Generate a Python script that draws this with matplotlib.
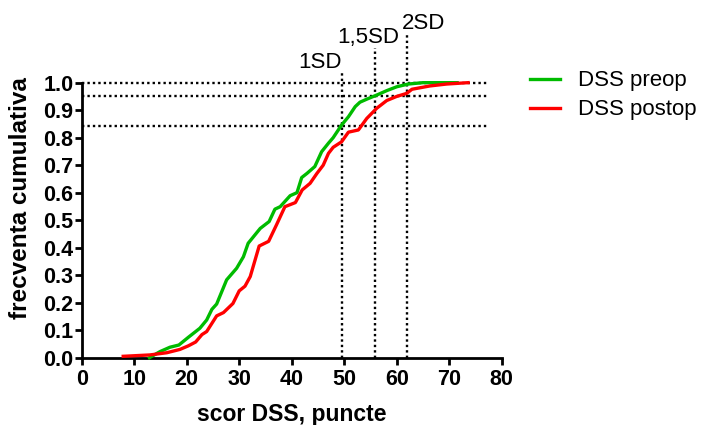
import matplotlib
matplotlib.use("Agg")
import matplotlib.pyplot as plt

plt.rcParams['font.family'] = ['Liberation Sans', 'DejaVu Sans']

# DSS preop (green)
preop_x = [12.9, 14.9, 16.8, 18.5, 20.3, 22.5, 23.8, 24.8, 25.7, 27.6, 29.5, 30.8, 31.7,
           34.0, 35.7, 36.8, 37.8, 39.7, 41.0, 41.9, 42.9, 44.4, 45.7, 47.0, 47.9, 49.5,
           50.8, 52.1, 53.0, 54.3, 56.2, 58.1, 60.0, 62.2, 65.0, 69.5, 71.5]
preop_y = [0.0, 0.022, 0.038, 0.046, 0.074, 0.107, 0.137, 0.176, 0.195, 0.283, 0.325, 0.367, 0.416,
           0.47, 0.495, 0.54, 0.549, 0.589, 0.60, 0.655, 0.67, 0.695, 0.749, 0.78, 0.80, 0.846,
           0.876, 0.913, 0.929, 0.94, 0.955, 0.971, 0.985, 0.995, 1.0, 1.0, 1.0]

# DSS postop (red)
postop_x = [7.9, 13.0, 16.2, 18.7, 20.3, 21.7, 22.9, 23.8, 25.7, 27.0, 28.8, 30.0, 31.1,
            32.1, 33.8, 35.6, 37.1, 38.7, 40.7, 42.0, 43.5, 44.8, 46.0, 47.0, 47.9, 49.5,
            50.8, 52.7, 54.3, 56.2, 58.1, 60.0, 61.9, 62.9, 66.3, 69.5, 73.6]
postop_y = [0.005, 0.01, 0.018, 0.03, 0.043, 0.057, 0.084, 0.095, 0.152, 0.164, 0.197, 0.243, 0.26,
            0.295, 0.406, 0.423, 0.483, 0.549, 0.564, 0.61, 0.634, 0.67, 0.70, 0.743, 0.765, 0.785,
            0.82, 0.828, 0.87, 0.907, 0.935, 0.95, 0.961, 0.976, 0.988, 0.995, 1.0]

# SD reference lines
sd_labels = ['1SD', '1,5SD', '2SD']
sd_x = [49.5, 55.9, 61.9]
sd_top = [1.04, 1.125, 1.18]
sd_y = [0.844, 0.953, 0.997]

fig = plt.figure(figsize=(7.01, 4.25), dpi=100)
ax = fig.add_axes([0.1166, 0.1584, 0.5991, 0.6471])

ax.plot(preop_x, preop_y, color='#00bb00', lw=2.4, label='DSS preop', clip_on=False, zorder=3)
ax.plot(postop_x, postop_y, color='#ff0000', lw=2.4, label='DSS postop', clip_on=False, zorder=3)

for x, top in zip(sd_x, sd_top):
    ax.plot([x, x], [0, top], color='black', ls=(0, (1, 1.3)), lw=1.7, clip_on=False)
for y in sd_y:
    ax.plot([0, 77.5], [y, y], color='black', ls=(0, (1, 1.3)), lw=1.7, clip_on=False)

ax.text(49.6, 1.052, sd_labels[0], ha='right', va='baseline', fontsize=16)
ax.text(54.5, 1.144, sd_labels[1], ha='center', va='baseline', fontsize=16)
ax.text(65.1, 1.195, sd_labels[2], ha='center', va='baseline', fontsize=16)

ax.set_xlim(0, 80)
ax.set_ylim(0, 1.0)
ax.set_xticks(range(0, 81, 10))
ax.set_yticks([i / 10 for i in range(11)])
ax.set_yticklabels([f'{i / 10:.1f}' for i in range(11)])
ax.tick_params(direction='out', length=5, width=2, labelsize=15.5)
ax.tick_params(axis='y', pad=1)
ax.tick_params(axis='x', pad=3)
for lbl in ax.get_xticklabels() + ax.get_yticklabels():
    lbl.set_fontweight('bold')
for s in ['top', 'right']:
    ax.spines[s].set_visible(False)
for s in ['left', 'bottom']:
    ax.spines[s].set_linewidth(2)

ax.set_xlabel('scor DSS, puncte', fontsize=16.5, fontweight='bold')
ax.set_ylabel('frecventa cumulativa', fontsize=17.5, fontweight='bold')
ax.xaxis.set_label_coords(0.5, -0.165)
ax.yaxis.set_label_coords(-0.118, 0.58)

ax.legend(loc='upper left', bbox_to_anchor=(1.067, 1.045), frameon=False, fontsize=16,
          borderpad=0, borderaxespad=0, handlelength=1.35, handletextpad=0.8,
          labelspacing=0.36)

fig.savefig('out.png', dpi=100)
